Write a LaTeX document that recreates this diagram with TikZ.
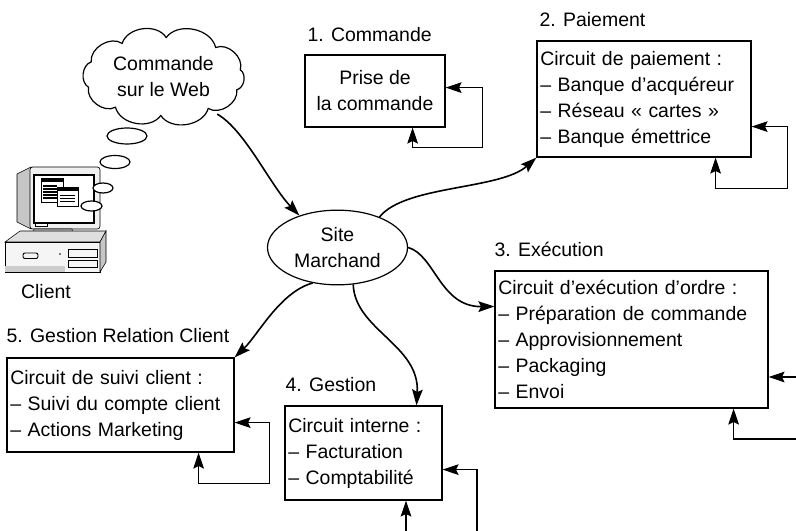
\documentclass[tikz,border=0pt]{standalone}
\usepackage{fontspec}
\setmainfont{Liberation Sans}
\usetikzlibrary{arrows.meta,positioning,calc,shapes.geometric}

\newcommand\boxfont{\fontsize{14.6}{19.5}\selectfont}

\begin{document}
\begin{tikzpicture}[x=0.75pt,y=-0.75pt,font=\boxfont,
  >={Stealth[length=12pt,width=8pt,inset=2pt]},
  box/.style={draw,line width=0.9pt,align=left,inner xsep=2.5pt,inner ysep=0pt},
  titre/.style={anchor=base west,inner sep=0pt},
  flux/.style={->,line width=1.2pt},
  retour/.style={line width=0.8pt},
  bulle/.style={draw,line width=0.9pt,fill=white}]
  \useasboundingbox (0,0) rectangle (796,531);

  % client computer
  \draw[line width=0.4pt,fill=gray!45] (17,174) -- (31,167) -- (31,229) -- (17,222) -- cycle;
  \draw[line width=0.5pt,fill=gray!12,rounded corners=2pt] (30,167) rectangle (100,229);
  \draw[line width=0.8pt,fill=white] (34,175) rectangle (94,223);
  \draw[line width=0.6pt,fill=white] (35,223) rectangle (47,226.5);
  \draw[line width=0.4pt,fill=gray!35] (34,229) -- (72,229) -- (74,238) -- (32,238) -- cycle;
  \draw[line width=0.4pt,fill=gray!25] (5,242) -- (20,231) -- (106,231) -- (100,242) -- cycle;
  \draw[line width=0.4pt,fill=gray!8] (5,242) rectangle (100,272);
  \fill[gray!40] (5,266) rectangle (65,272);
  \draw[line width=0.4pt,fill=gray!45] (100,242) -- (106,231) -- (106,262) -- (100,272) -- cycle;
  \draw[line width=0.7pt,rounded corners=1.5pt] (23,253) rectangle (38,258.5);
  \draw[line width=0.4pt] (68,249) rectangle (97,257) (68,260) rectangle (97,267);
  \fill (60,254) circle (0.8);
  % windows on the screen
  \draw[line width=0.6pt,fill=white] (41,178) rectangle (63,202);
  \fill (41,178) rectangle (63,182.5);
  \foreach \y in {186,189,...,200} \draw[line width=0.8pt] (43,\y) -- (57,\y);
  \draw[line width=0.6pt,fill=white] (57,187) rectangle (78,206);
  \fill (57,187) rectangle (78,191);
  \foreach \y in {195,198,201} \draw[line width=0.6pt] (60,\y) -- (75,\y);

  % thought bubbles
  \draw[bulle] (127,136) ellipse (20 and 8);
  \draw[bulle] (115,162) ellipse (15 and 6.5);
  \draw[bulle] (103,188) ellipse (10 and 5);
  \draw[bulle] (91.5,206) ellipse (10.5 and 5);
  \node (client) at (46,292) {Client};

  % cloud: puffs drawn round an ellipse
  \draw[line width=0.9pt] ({163.5+78*cos(10)},{76.5-39*sin(10)})
    foreach \a in {48,88,122,158,196,232,268,305,340,370}
      { to[bend right=65] ({163.5+78*cos(\a)},{76.5-39*sin(\a)}) } -- cycle;
  \node[ellipse,minimum width=124.5pt,minimum height=73.5pt,inner sep=0pt,align=center]
    (web) at (163.5,76.5) {Commande\\sur le Web};
  \node[ellipse,draw,line width=0.9pt,minimum width=105pt,minimum height=56pt,
    inner sep=0pt,align=center] (site) at (337.5,247.5) {Site\\Marchand};

  % the five circuits
  \node[box,align=center,minimum width=105pt,minimum height=54pt] (commande) at (375,91)
    {Prise de\\la commande};
  \node[box,text width=155.5pt,minimum height=87pt] (paiement) at (644,99)
    {Circuit de paiement :\\-- Banque d’acquéreur\\-- Réseau « cartes »\\-- Banque émettrice};
  \node[box,text width=199.75pt,minimum height=102.75pt] (execution) at (631.5,339.5)
    {Circuit d’exécution d’ordre :\\-- Préparation de commande\\-- Approvisionnement\\-- Packaging\\-- Envoi};
  \node[box,text width=112.75pt,minimum height=70.5pt] (gestion) at (363.5,453)
    {Circuit interne :\\-- Facturation\\-- Comptabilité};
  \node[box,text width=165.25pt,minimum height=70.5pt] (grc) at (120.5,405)
    {Circuit de suivi client :\\-- Suivi du compte client\\-- Actions Marketing};

  \node[titre] (tcommande) at ($(commande.north west)+(3,-13)$) {1. Commande};
  \node[titre] (tpaiement) at ($(paiement.north west)+(3,-14)$) {2. Paiement};
  \node[titre] (texecution) at ($(execution.north west)+(0,-14)$) {3. Exécution};
  \node[titre] (tgestion) at ($(gestion.north west)+(1,-14)$) {4. Gestion};
  \node[titre] (tgrc) at ($(grc.north west)+(0,-15)$) {5. Gestion Relation Client};

  % flows
  \draw[flux] (web.-35) .. controls (245,130) and (270,185) .. (site.140);
  \draw[flux] (site.36) .. controls (405,185) and (500,190) .. (paiement.south west);
  \draw[flux] (site.east) .. controls (435,255) and (440,307) .. ($(execution.west)+(0,-33)$);
  \draw[flux] (site.-67) .. controls (355,330) and (420,345) .. ($(gestion.north)+(53,0)$);
  \draw[flux] (site.-125) .. controls (280,292) and (258,335) .. (grc.north east);

  % feedback loops
  \draw[retour,<->] ($(commande.south east)+(0,-40)$) -- ++(37,0) |- ++(-70,60)
    -- ($(commande.south east)+(-33,0)$);
  \draw[retour,<->] ($(paiement.south east)+(0,-31)$) -- ++(36,0) |- ++(-72,62)
    -- ($(paiement.south east)+(-36,0)$);
  \draw[retour,<->] ($(grc.south east)+(0,-30)$) -- ++(35,0) |- ++(-71,61)
    -- ($(grc.south east)+(-36,0)$);
  \coordinate (bordE1) at (796,377);
  \coordinate (bordE2) at (796,439);
  \draw[retour,->] (bordE1) -- (bordE1 -| execution.east);
  \draw[retour,->] (bordE2) -| ($(execution.south east)+(-35,0)$);
  \coordinate (bordG1) at (477,531);
  \coordinate (bordG2) at (406,531);
  \draw[retour,->] (bordG1) |- ($(gestion.south east)+(0,-31)$);
  \draw[retour,->] (bordG2) -- (bordG2 |- gestion.south);
\end{tikzpicture}
\end{document}
